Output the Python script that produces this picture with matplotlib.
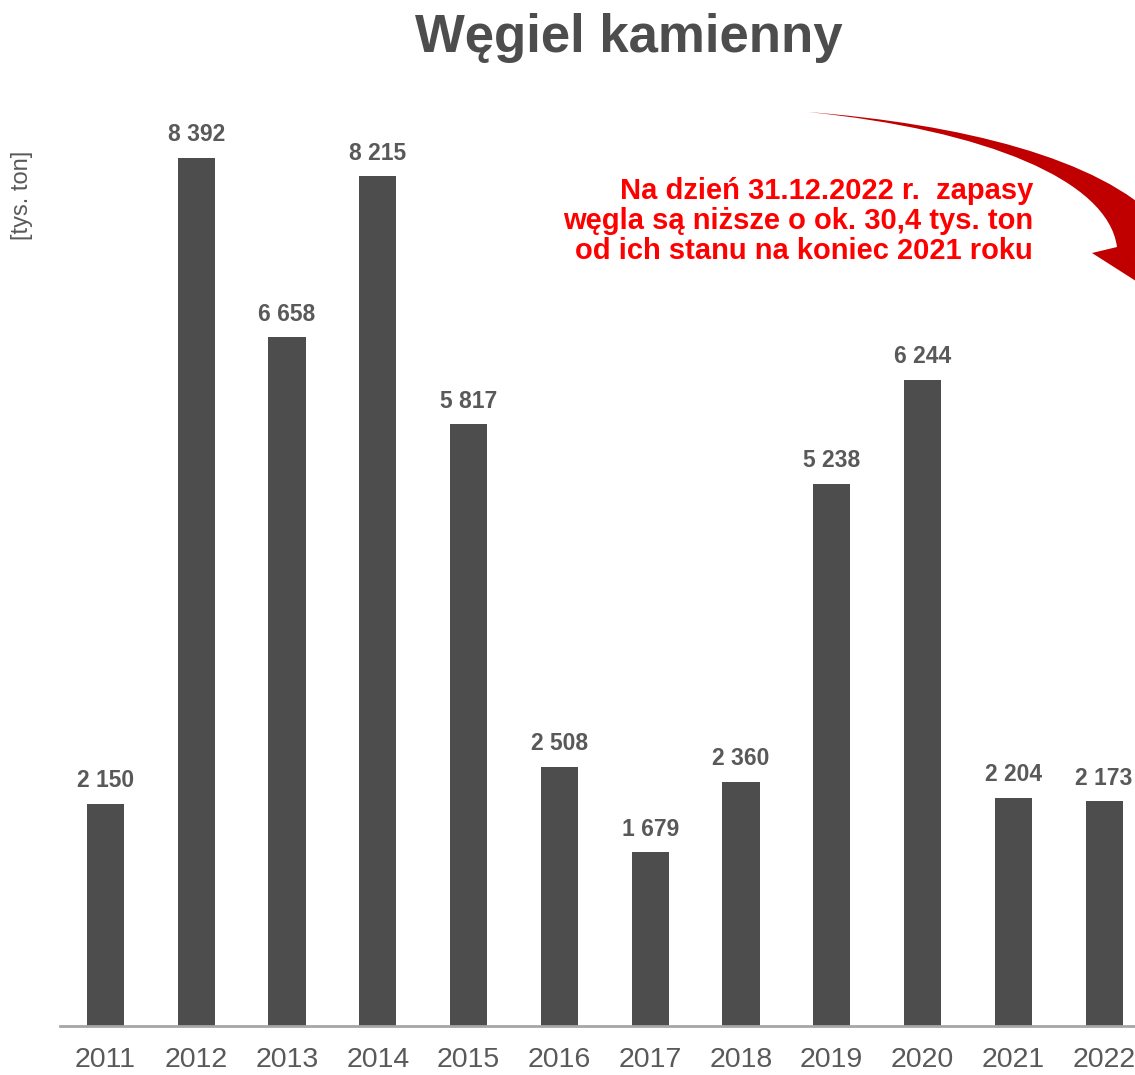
import matplotlib.pyplot as plt
from matplotlib.path import Path
from matplotlib.patches import PathPatch

plt.rcParams['font.family'] = ['Liberation Sans', 'DejaVu Sans']

years = ['2011', '2012', '2013', '2014', '2015', '2016',
         '2017', '2018', '2019', '2020', '2021', '2022']
stock = [2150, 8392, 6658, 8215, 5817, 2508, 1679, 2360, 5238, 6244, 2204, 2173]

W, H = 1135, 1075
fig = plt.figure(figsize=(W / 100, H / 100), dpi=100)

# main bar axes, placed in pixel terms
ax = fig.add_axes([60 / W, (H - 1026) / H, (W - 60) / W, 931 / H])
x = range(len(years))
ax.bar(x, stock, width=0.41, color='#4d4d4d', zorder=2)
for i, v in zip(x, stock):
    lbl = f'{v:,}'.replace(',', ' ')
    ax.annotate(lbl, (i, v), xytext=(0, 12), textcoords='offset points',
                ha='center', va='baseline', fontsize=16.5, fontweight='bold',
                color='#595959')

ax.set_xlim(-0.5, 11.34)
ax.set_ylim(0, 9000)
ax.set_xticks(list(x))
ax.set_xticklabels(years, fontsize=20.5, color='#595959')
ax.tick_params(axis='x', length=0, pad=15)
ax.set_yticks([])
for s in ['top', 'right', 'left']:
    ax.spines[s].set_visible(False)
ax.spines['bottom'].set_color('#a6a6a6')
ax.spines['bottom'].set_linewidth(2)

fig.text(629 / W, 1 - 52 / H, 'Węgiel kamienny', ha='center', va='baseline',
         fontsize=38, fontweight='bold', color='#4d4d4d')
fig.text(22 / W, 1 - 195 / H, '[tys. ton]', rotation=90, ha='center',
         va='center', fontsize=17, color='#595959')

note = ['Na dzień 31.12.2022 r.  zapasy',
        'węgla są niższe o ok. 30,4 tys. ton',
        'od ich stanu na koniec 2021 roku']
for k, line in enumerate(note):
    fig.text(1033 / W, 1 - (199 + 30 * k) / H, line, ha='right',
             va='baseline', fontsize=21, fontweight='bold', color='#ff0000')

# curved red arrow in the top-right corner (pixel overlay)
ov = fig.add_axes([0, 0, 1, 1], zorder=5)
ov.set_xlim(0, W)
ov.set_ylim(H, 0)
ov.axis('off')
verts = [(808, 112),
         (960, 124), (1100, 158), (1160, 222),
         (1185, 225), (1150, 290), (1092, 253), (1117, 247),
         (1108, 180), (985, 130), (808, 112),
         (808, 112)]
codes = [Path.MOVETO,
         Path.CURVE4, Path.CURVE4, Path.CURVE4,
         Path.LINETO, Path.LINETO, Path.LINETO, Path.LINETO,
         Path.CURVE4, Path.CURVE4, Path.CURVE4,
         Path.CLOSEPOLY]
ov.add_patch(PathPatch(Path(verts, codes), facecolor='#c00000',
                       edgecolor='none'))

fig.savefig('out.png', dpi=100)
